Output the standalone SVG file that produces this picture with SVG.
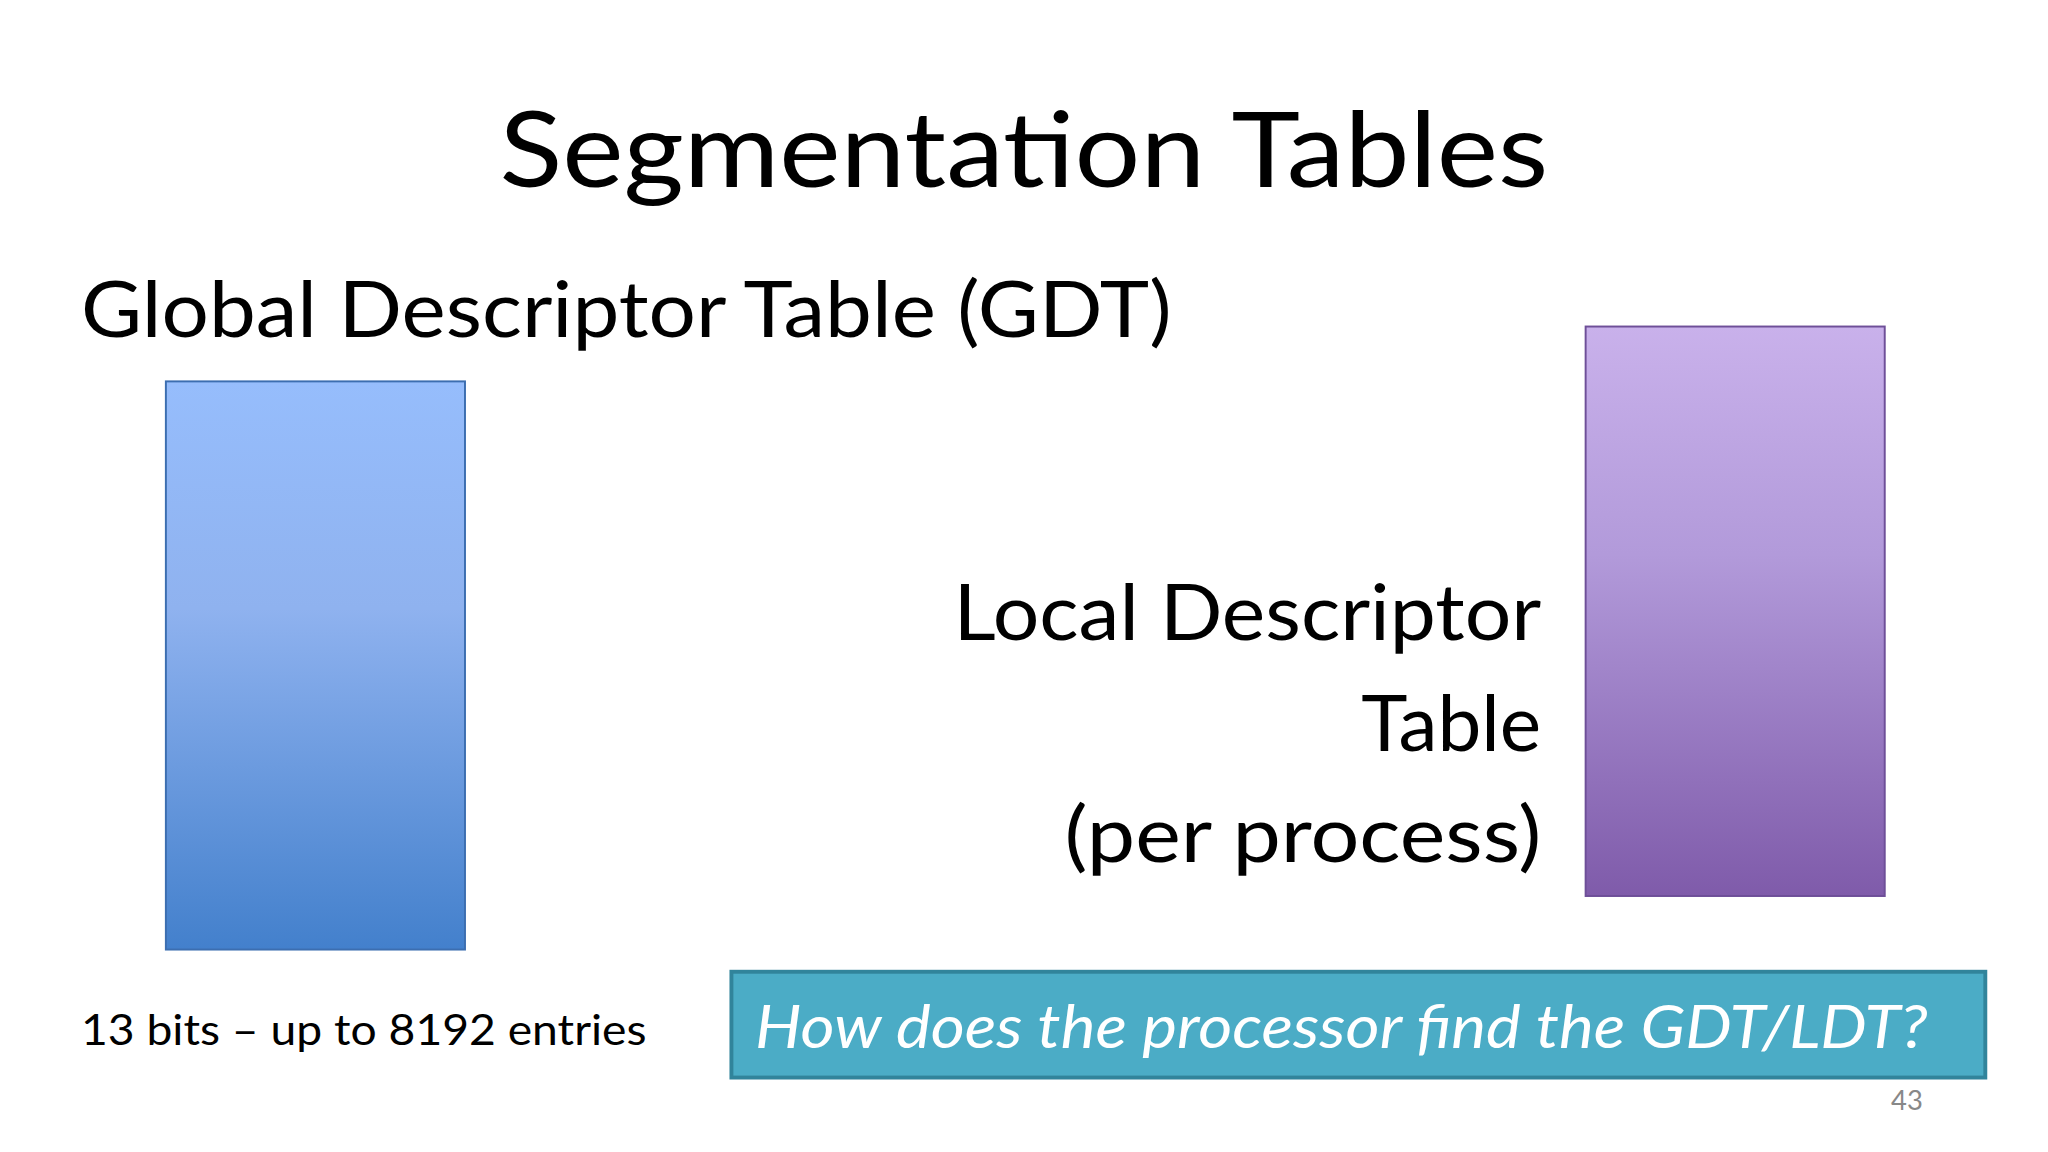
<svg xmlns="http://www.w3.org/2000/svg" width="2048" height="1152" viewBox="0 0 2048 1152">
<style>
text{font-family:Lato,"Open Sans","Liberation Sans",sans-serif;fill:#000}
.big{font-size:60px}
</style>
<defs>
<linearGradient id="gb" x1="0" y1="0" x2="0" y2="1"><stop offset="0" stop-color="#96BDFC"/><stop offset="0.4" stop-color="#8FB2EF"/><stop offset="1" stop-color="#4380CC"/></linearGradient>
<linearGradient id="gp" x1="0" y1="0" x2="0" y2="1"><stop offset="0" stop-color="#C9B1EB"/><stop offset="0.4" stop-color="#B29ADA"/><stop offset="1" stop-color="#7F5BAA"/></linearGradient>
</defs>
<rect width="2048" height="1152" fill="#fff"/>
<g transform="scale(1.30612)">
<g id="title"><text x="784" y="143" text-anchor="middle" font-size="80" textLength="803" lengthAdjust="spacingAndGlyphs">Segmentation Tables</text></g>
<g id="gdt">
<text x="62" y="258" class="big" textLength="835" lengthAdjust="spacingAndGlyphs">Global Descriptor Table (GDT)</text>
<rect x="127" y="292" width="229" height="435" fill="url(#gb)" stroke="#3C6EB0" stroke-width="1.5"/>
<text x="62" y="800" font-size="32" textLength="433" lengthAdjust="spacingAndGlyphs">13 bits – up to 8192 entries</text>
</g>
<g id="ldt">
<rect x="1214" y="250" width="229" height="436" fill="url(#gp)" stroke="#6E4F98" stroke-width="1.5"/>
<text x="1180" y="490" class="big" text-anchor="end" textLength="450" lengthAdjust="spacingAndGlyphs">Local Descriptor</text>
<text x="1180" y="575" class="big" text-anchor="end">Table</text>
<text x="1180" y="660" class="big" text-anchor="end" textLength="365" lengthAdjust="spacingAndGlyphs">(per process)</text>
</g>
<g id="question">
<rect x="560" y="744" width="960" height="81" fill="#4BACC6" stroke="#31849B" stroke-width="3"/>
<text x="578" y="802" font-size="46" font-style="italic" style="fill:#fff" textLength="898" lengthAdjust="spacingAndGlyphs">How does the processor find the GDT/LDT?</text>
</g>
<text x="1460" y="850" font-size="21" text-anchor="middle" style="fill:#888">43</text>
</g>
<g id="connectors"/>
</svg>
